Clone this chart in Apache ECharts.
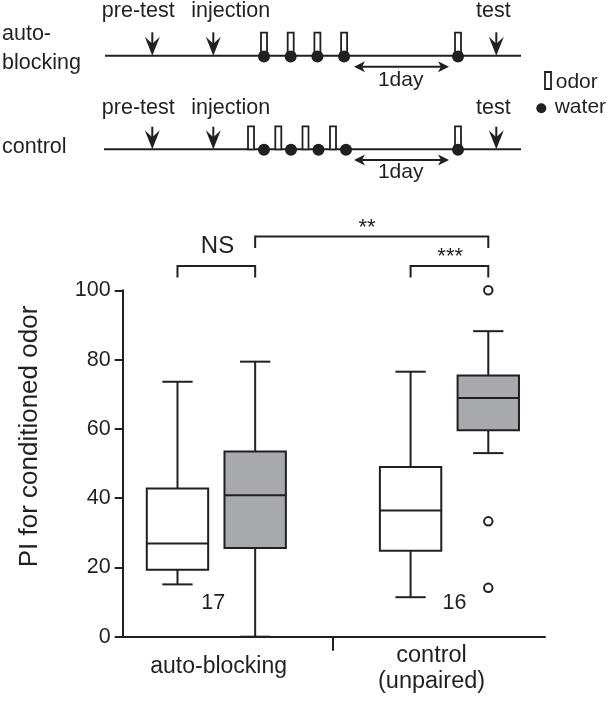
<!DOCTYPE html>
<html><head><meta charset="utf-8">
<script src="https://cdn.jsdelivr.net/npm/echarts@6/dist/echarts.min.js"></script>
<style>html,body{margin:0;padding:0;background:#fff;}#c{width:608px;height:716px;}</style>
</head><body><div id="c"></div>
<script>
// ---------------- DATA ----------------
const categories = ['auto-blocking', 'control\n(unpaired)'];
const boxGroups = ['auto-blocking', 'auto-blocking', 'control', 'control'];
const boxIsTest = [false, true, false, true];          // white = pre-test, gray = test
const whiskerLow  = [15.1, 0.0, 11.4, 53.0];
const quartile1   = [19.3, 25.6, 24.8, 59.6];
const medians     = [26.9, 40.8, 36.4, 68.9];
const quartile3   = [42.8, 53.5, 49.0, 75.4];
const whiskerHigh = [73.6, 79.4, 76.5, 88.2];
const outlierBox  = [3, 3, 3];
const outlierVals = [100, 33.3, 14.1];
const sampleSizes = ['17', '16'];
const yTicks = [0, 20, 40, 60, 80, 100];
const yTitle = 'PI for conditioned odor';
const sigLabels = ['NS', '**', '***'];
const sigFrom = [0, 1, 2];   // box indices compared
const sigTo   = [1, 3, 3];

// schematic (timeline) content
const rowNames = ['auto-\nblocking', 'control'];
const eventNames = ['pre-test', 'injection', 'test'];
const eventTime = [152.3, 213.3, 496.3];
const autoOdorTime = [264, 290.7, 317.4, 344.1, 458];
const autoWaterTime = [264, 290.7, 317.4, 344.1, 458];
const controlOdorTime = [251, 278.3, 305.5, 333, 458];
const controlWaterTime = [264, 291, 318.5, 346, 458];
const dayLabel = '1day';
const dayFrom = 354, dayTo = 449;
const legendNames = ['odor', 'water'];

// ---------------- LAYOUT ----------------
const FONT = 'Liberation Sans, Arial, Helvetica, sans-serif';
const INK = '#231f20';
const GRAY = '#a8a9ac';
const boxPos = [0, 1, 3, 4];          // slot of each box along the hidden x scale
const categoryPos = [0.53, 3.27];
const groupDivider = [2];
const BOX_W = 0.79, CAP_W = 0.39;
const bracketY = [107.0, 115.5, 107.0];
const bracketDrop = 3.3;
const sigTextPos = [[0.515, 112.6], [2.44, 118.1], [3.51, 109.6]];
const sigTextSize = [24, 22, 22];
const nTextPos = [[0.46, 9.7], [3.565, 9.7]];

const rowLineY = [55.7, 149.3];
const lineStart = [105, 104], lineEnd = 521;
const arrowTopY = [32.3, 126.7];
const eventLabelY = [10.9, 107.6];
const rowLabelY = [48.7, 147.5];
const dayArrowY = [66.7, 160];
const dayLabelY = [80, 172];

const chart = echarts.init(document.getElementById('c'), null, {renderer: 'canvas'});

function txt(x, y, text, size, align) {
  return {
    type: 'text', x: x, y: y,
    style: {text: text, fontSize: size, fontFamily: FONT, fill: INK,
      align: align, textAlign: align, verticalAlign: 'middle', textVerticalAlign: 'middle'}
  };
}
const ls = {stroke: INK, lineWidth: 2};

// ---------- schematic series (grid 0, pixel-like timeline scale) ----------
const timelineData = rowLineY.map((y, r) => [lineStart[r], lineEnd, y]);
const arrowData = [];
rowLineY.forEach((y, r) => eventTime.forEach(t => arrowData.push([t, arrowTopY[r], y])));
const odorData = autoOdorTime.map(t => [t, rowLineY[0] - 23, rowLineY[0]])
  .concat(controlOdorTime.map(t => [t, rowLineY[1] - 23, rowLineY[1]]))
  .concat([[548, 72, 89]]);
const waterData = autoWaterTime.map(t => [t, rowLineY[0] + 0.8])
  .concat(controlWaterTime.map(t => [t, rowLineY[1] + 0.5]));
const dayData = dayArrowY.map(y => [dayFrom, dayTo, y]);

const schematicTexts = [];
rowNames.forEach((n, r) => schematicTexts.push({x: 2, y: rowLabelY[r], t: n, s: 21.5, a: 'left', lh: 29}));
rowLineY.forEach((_, r) => eventNames.forEach((n, e) => {
  const cx = e === 0 ? eventTime[e] - 14 : (e === 1 ? eventTime[e] + 17.4 : eventTime[e] - 3);
  schematicTexts.push({x: cx, y: eventLabelY[r], t: n, s: 21.5, a: 'center'});
}));
dayLabelY.forEach(y => schematicTexts.push({x: 400.7, y: y, t: dayLabel, s: 21, a: 'center'}));
schematicTexts.push({x: 555.7, y: 82.5, t: legendNames[0], s: 21, a: 'left'});
schematicTexts.push({x: 554.7, y: 107.6, t: legendNames[1], s: 21, a: 'left'});

const series = [
  {type: 'custom', xAxisIndex: 0, yAxisIndex: 0, data: timelineData, silent: true,
   renderItem: (p, api) => {
     const a = api.coord([api.value(0), api.value(2)]), b = api.coord([api.value(1), api.value(2)]);
     return {type: 'line', shape: {x1: a[0], y1: a[1], x2: b[0], y2: b[1]}, style: ls};
   }},
  {type: 'custom', xAxisIndex: 0, yAxisIndex: 0, data: odorData, silent: true,
   renderItem: (p, api) => {
     const top = api.coord([api.value(0), api.value(1)]), bot = api.coord([api.value(0), api.value(2)]);
     return {type: 'rect', shape: {x: top[0] - 3, y: top[1], width: 6, height: bot[1] - top[1]},
       style: {fill: '#fff', stroke: INK, lineWidth: 1.8}};
   }},
  {type: 'scatter', xAxisIndex: 0, yAxisIndex: 0, data: waterData, symbol: 'circle', symbolSize: 12,
   itemStyle: {color: INK, opacity: 1}, silent: true, clip: false},
  {type: 'scatter', xAxisIndex: 0, yAxisIndex: 0, data: [[541.3, 108.3]], symbol: 'circle', symbolSize: 10,
   itemStyle: {color: INK, opacity: 1}, silent: true, clip: false},
  {type: 'custom', xAxisIndex: 0, yAxisIndex: 0, data: arrowData, silent: true,
   renderItem: (p, api) => {
     const top = api.coord([api.value(0), api.value(1)]), bot = api.coord([api.value(0), api.value(2)]);
     const x = bot[0], yb = bot[1];
     return {type: 'group', children: [
       {type: 'line', shape: {x1: x, y1: top[1], x2: x, y2: yb - 10}, style: ls},
       {type: 'polygon', shape: {points: [[x, yb], [x - 7.5, yb - 19], [x, yb - 12], [x + 7.5, yb - 19]]},
        style: {fill: INK}}
     ]};
   }},
  {type: 'custom', xAxisIndex: 0, yAxisIndex: 0, data: dayData, silent: true,
   renderItem: (p, api) => {
     const a = api.coord([api.value(0), api.value(2)]), b = api.coord([api.value(1), api.value(2)]);
     const y = a[1];
     return {type: 'group', children: [
       {type: 'line', shape: {x1: a[0] + 4, y1: y, x2: b[0] - 4, y2: y}, style: ls},
       {type: 'polygon', shape: {points: [[a[0], y], [a[0] + 11, y - 5.5], [a[0] + 8, y], [a[0] + 11, y + 5.5]]}, style: {fill: INK}},
       {type: 'polygon', shape: {points: [[b[0], y], [b[0] - 11, y - 5.5], [b[0] - 8, y], [b[0] - 11, y + 5.5]]}, style: {fill: INK}}
     ]};
   }},
  {type: 'custom', xAxisIndex: 0, yAxisIndex: 0, silent: true,
   data: schematicTexts.map((t, i) => [t.x, t.y, i]),
   renderItem: (p, api) => {
     const t = schematicTexts[p.dataIndex];
     const c = api.coord([t.x, t.y]);
     const el = txt(c[0], c[1], t.t, t.s, t.a);
     if (t.lh) el.style.lineHeight = t.lh;
     return el;
   }},

  // ---------- box plot (grid 1) ----------
  {type: 'custom', xAxisIndex: 1, yAxisIndex: 1, silent: true, clip: false,
   data: boxPos.map((x, i) => [x, whiskerLow[i], quartile1[i], medians[i], quartile3[i], whiskerHigh[i]]),
   renderItem: (p, api) => {
     const i = p.dataIndex, x = api.value(0);
     const hi = api.coord([x, api.value(5)]), q3 = api.coord([x, api.value(4)]);
     const md = api.coord([x, api.value(3)]), q1 = api.coord([x, api.value(2)]);
     const lo = api.coord([x, api.value(1)]);
     const bw = api.size([BOX_W, 0])[0], cw = api.size([CAP_W, 0])[0];
     const cx = md[0];
     return {type: 'group', children: [
       {type: 'line', shape: {x1: cx, y1: hi[1], x2: cx, y2: q3[1]}, style: ls},
       {type: 'line', shape: {x1: cx - cw / 2, y1: hi[1], x2: cx + cw / 2, y2: hi[1]}, style: ls},
       {type: 'line', shape: {x1: cx, y1: q1[1], x2: cx, y2: lo[1]}, style: ls},
       {type: 'line', shape: {x1: cx - cw / 2, y1: lo[1], x2: cx + cw / 2, y2: lo[1]}, style: ls},
       {type: 'rect', shape: {x: cx - bw / 2, y: q3[1], width: bw, height: q1[1] - q3[1]},
        style: {fill: boxIsTest[i] ? GRAY : '#fff', stroke: INK, lineWidth: 2}},
       {type: 'line', shape: {x1: cx - bw / 2, y1: md[1], x2: cx + bw / 2, y2: md[1]}, style: ls}
     ]};
   }},
  {type: 'scatter', xAxisIndex: 1, yAxisIndex: 1, silent: true, clip: false,
   data: outlierVals.map((v, i) => [boxPos[outlierBox[i]], v]),
   symbol: 'circle', symbolSize: 8.5,
   itemStyle: {color: '#fff', borderColor: INK, borderWidth: 2, opacity: 1}},
  {type: 'custom', xAxisIndex: 1, yAxisIndex: 1, silent: true, clip: false,
   data: sigLabels.map((s, i) => [boxPos[sigFrom[i]], boxPos[sigTo[i]], bracketY[i]]),
   renderItem: (p, api) => {
     const y = api.value(2);
     const a = api.coord([api.value(0), y]), b = api.coord([api.value(1), y]);
     const a2 = api.coord([api.value(0), y - bracketDrop]), b2 = api.coord([api.value(1), y - bracketDrop]);
     return {type: 'polyline', shape: {points: [[a2[0], a2[1]], [a[0], a[1]], [b[0], b[1]], [b2[0], b2[1]]]},
       style: {stroke: INK, lineWidth: 2, fill: null}};
   }},
  {type: 'custom', xAxisIndex: 1, yAxisIndex: 1, silent: true, clip: false,
   data: sigLabels.map((s, i) => [sigTextPos[i][0], sigTextPos[i][1]]),
   renderItem: (p, api) => {
     const c = api.coord([api.value(0), api.value(1)]);
     return txt(c[0], c[1], sigLabels[p.dataIndex], sigTextSize[p.dataIndex], 'center');
   }},
  {type: 'custom', xAxisIndex: 1, yAxisIndex: 1, silent: true, clip: false,
   data: sampleSizes.map((s, i) => [nTextPos[i][0], nTextPos[i][1]]),
   renderItem: (p, api) => {
     const c = api.coord([api.value(0), api.value(1)]);
     return txt(c[0], c[1], sampleSizes[p.dataIndex], 21.5, 'center');
   }}
];

function nearestIdx(arr, v) {
  let best = 0;
  arr.forEach((a, i) => { if (Math.abs(a - v) < Math.abs(arr[best] - v)) best = i; });
  return best;
}

chart.setOption({
  animation: false,
  backgroundColor: '#fff',
  textStyle: {fontFamily: FONT, color: INK},
  grid: [
    {left: 0, top: 0, width: 608, height: 200, outerBoundsMode: 'none', containLabel: false},
    {left: 122.7, top: 290.3, right: 63, bottom: 79.3, outerBoundsMode: 'none', containLabel: false}
  ],
  xAxis: [
    {type: 'value', gridIndex: 0, min: 0, max: 608, show: false},
    {type: 'value', gridIndex: 1, min: -0.705, max: 4.73,
     axisLine: {show: true, onZero: false, lineStyle: {color: INK, width: 2}},
     axisTick: {show: true, customValues: groupDivider, length: 14, lineStyle: {color: INK, width: 2}},
     axisLabel: {show: true, customValues: categoryPos, margin: 6, color: INK, fontFamily: FONT, fontSize: 23.5,
       formatter: v => {
         const c = categories[nearestIdx(categoryPos, v)];
         const lines = c.split('\n');
         return lines.length === 1 ? '{a|' + c + '}' : lines.map(l => '{b|' + l + '}').join('\n');
       },
       rich: {
         a: {fontSize: 23, lineHeight: 48, fontFamily: FONT, color: INK},
         b: {fontSize: 23.5, lineHeight: 26, fontFamily: FONT, color: INK}
       }},
     splitLine: {show: false}}
  ],
  yAxis: [
    {type: 'value', gridIndex: 0, min: 0, max: 200, inverse: true, show: false},
    {type: 'value', gridIndex: 1, min: yTicks[0], max: yTicks[yTicks.length - 1], interval: yTicks[1] - yTicks[0],
     name: yTitle, nameLocation: 'middle', nameGap: 80,
     nameTextStyle: {fontSize: 26, fontFamily: FONT, color: INK, padding: [0, 0, 0, 54]},
     axisLine: {show: true, onZero: false, lineStyle: {color: INK, width: 2}},
     axisTick: {show: true, length: 8, lineStyle: {color: INK, width: 2}},
     axisLabel: {margin: 12, fontSize: 21.5, color: INK, fontFamily: FONT},
     splitLine: {show: false}}
  ],
  series: series
});
</script></body></html>
